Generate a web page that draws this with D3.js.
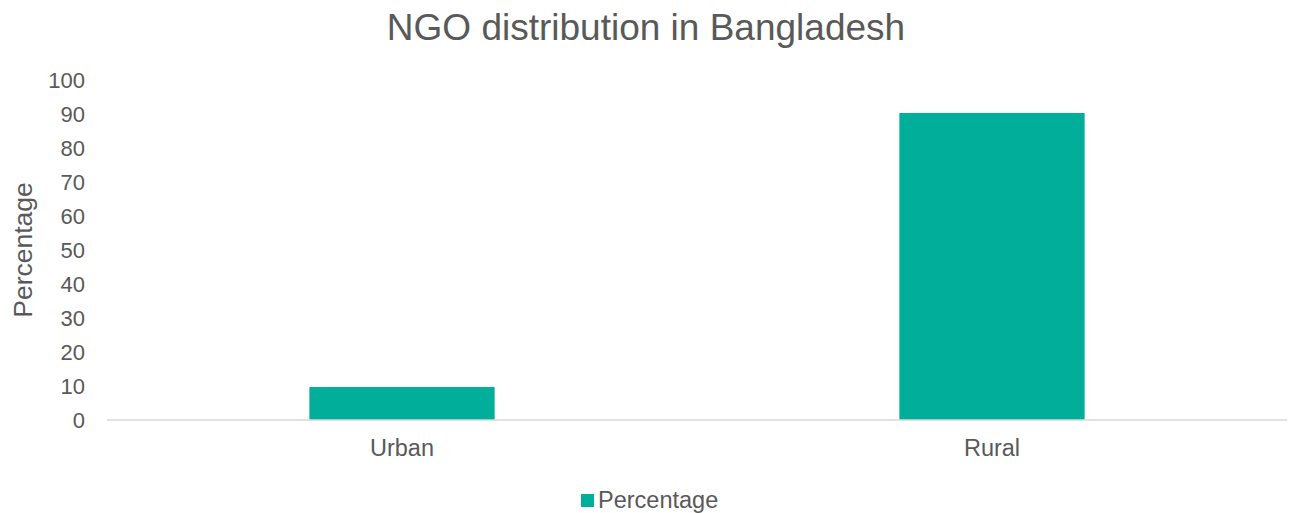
<!DOCTYPE html>
<html><head><meta charset="utf-8">
<script src="https://cdn.jsdelivr.net/npm/d3@7"></script>
<style>body{margin:0;background:#fff}svg{display:block}text{font-family:"Liberation Sans",Arial,sans-serif;fill:#595959}</style>
</head><body><svg id="c" width="1291" height="513"></svg>
<script>
const categories = ["Urban", "Rural"];
const values = [9.7, 90.3];
const yTicks = [0,10,20,30,40,50,60,70,80,90,100];
const seriesName = "Percentage";
const title = "NGO distribution in Bangladesh";
const yTitle = "Percentage";

(function(){
const svg = d3.select("#c");
const color = "#00AE9A";
const mL = 107, mR = 1287, mT = 80, mB = 420;
const x = d3.scaleBand().domain(categories).range([mL, mR]).padding(0);
const y = d3.scaleLinear().domain([0, 100]).range([mB, mT]);
const barW = x.bandwidth() * 0.314;

svg.append("text").attr("x", 646).attr("y", 40).attr("text-anchor", "middle")
  .style("font-size", "37px").text(title);

svg.append("g").selectAll("text").data(yTicks).join("text")
  .attr("x", 85).attr("y", d => y(d)).attr("dy", "0.35em").attr("text-anchor", "end")
  .style("font-size", "22px").text(d => d);

svg.append("text").attr("transform", `translate(32,${(mT+mB)/2}) rotate(-90)`)
  .attr("text-anchor", "middle").style("font-size", "26.5px").text(yTitle);

svg.append("g").selectAll("rect").data(values).join("rect")
  .attr("x", (d, i) => x(categories[i]) + x.bandwidth()/2 - barW/2)
  .attr("width", barW)
  .attr("y", d => y(d)).attr("height", d => y(0) - y(d))
  .attr("fill", color);

svg.append("line").attr("x1", mL).attr("x2", mR).attr("y1", y(0)).attr("y2", y(0))
  .attr("stroke", "#d9d9d9").attr("stroke-width", 1.5);

svg.append("g").selectAll("text").data(categories).join("text")
  .attr("x", d => x(d) + x.bandwidth()/2).attr("y", 456).attr("text-anchor", "middle")
  .style("font-size", "23.5px").text(d => d);

const lg = svg.append("g");
lg.append("rect").attr("x", 581).attr("y", 494).attr("width", 13).attr("height", 13).attr("fill", color);
lg.append("text").attr("x", 598).attr("y", 508).style("font-size", "23.5px").text(seriesName);
})();
</script></body></html>
